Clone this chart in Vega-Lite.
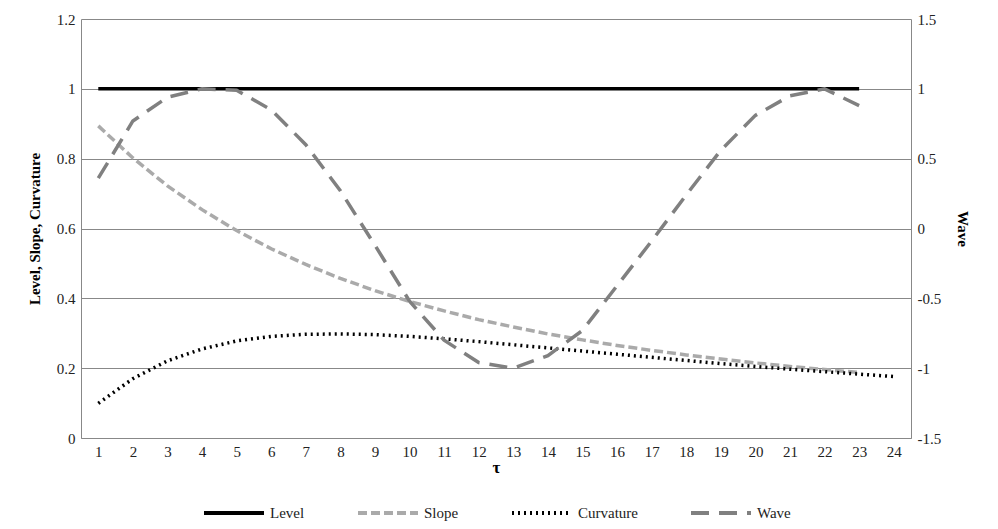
{
  "$schema": "https://vega.github.io/schema/vega-lite/v6.json",
  "width": 830,
  "height": 419,
  "padding": {"left": 27, "top": 12, "right": 5, "bottom": 0},
  "config": {
    "font": "Liberation Serif",
    "view": {"stroke": null},
    "axis": {"labelFont": "Liberation Serif", "titleFont": "Liberation Serif", "labelFontSize": 15, "titleFontSize": 15, "labelColor": "#222", "titleColor": "#000", "domainColor": "#888", "tickColor": "#888", "gridColor": "#888", "labelPadding": 6},
    "legend": {"labelFont": "Liberation Serif", "labelFontSize": 15, "labelColor": "#222", "layout": {"bottom": {"anchor": "middle"}}}
  },
  "datasets": {
    "left": [
      {"t":1,"s":"Level","v":1},{"t":23,"s":"Level","v":1},
      {"t":1,"s":"Slope","v":0.894},{"t":2,"s":"Slope","v":0.802},{"t":3,"s":"Slope","v":0.722},{"t":4,"s":"Slope","v":0.654},{"t":5,"s":"Slope","v":0.594},{"t":6,"s":"Slope","v":0.542},{"t":7,"s":"Slope","v":0.497},{"t":8,"s":"Slope","v":0.457},{"t":9,"s":"Slope","v":0.422},{"t":10,"s":"Slope","v":0.391},{"t":11,"s":"Slope","v":0.364},{"t":12,"s":"Slope","v":0.339},{"t":13,"s":"Slope","v":0.318},{"t":14,"s":"Slope","v":0.298},{"t":15,"s":"Slope","v":0.281},{"t":16,"s":"Slope","v":0.265},{"t":17,"s":"Slope","v":0.251},{"t":18,"s":"Slope","v":0.238},{"t":19,"s":"Slope","v":0.226},{"t":20,"s":"Slope","v":0.215},{"t":21,"s":"Slope","v":0.205},{"t":22,"s":"Slope","v":0.196},{"t":23,"s":"Slope","v":0.188},
      {"t":1,"s":"Curvature","v":0.099},{"t":2,"s":"Curvature","v":0.170},{"t":3,"s":"Curvature","v":0.221},{"t":4,"s":"Curvature","v":0.255},{"t":5,"s":"Curvature","v":0.278},{"t":6,"s":"Curvature","v":0.291},{"t":7,"s":"Curvature","v":0.297},{"t":8,"s":"Curvature","v":0.298},{"t":9,"s":"Curvature","v":0.296},{"t":10,"s":"Curvature","v":0.291},{"t":11,"s":"Curvature","v":0.284},{"t":12,"s":"Curvature","v":0.276},{"t":13,"s":"Curvature","v":0.267},{"t":14,"s":"Curvature","v":0.258},{"t":15,"s":"Curvature","v":0.249},{"t":16,"s":"Curvature","v":0.240},{"t":17,"s":"Curvature","v":0.231},{"t":18,"s":"Curvature","v":0.222},{"t":19,"s":"Curvature","v":0.213},{"t":20,"s":"Curvature","v":0.205},{"t":21,"s":"Curvature","v":0.197},{"t":22,"s":"Curvature","v":0.190},{"t":23,"s":"Curvature","v":0.183},{"t":24,"s":"Curvature","v":0.176}
    ],
    "wave": [
      {"t":1,"s":"Wave","v":0.36},{"t":2,"s":"Wave","v":0.77},{"t":3,"s":"Wave","v":0.94},{"t":4,"s":"Wave","v":1.0},{"t":5,"s":"Wave","v":0.99},{"t":6,"s":"Wave","v":0.85},{"t":7,"s":"Wave","v":0.6},{"t":8,"s":"Wave","v":0.27},{"t":9,"s":"Wave","v":-0.12},{"t":10,"s":"Wave","v":-0.52},{"t":11,"s":"Wave","v":-0.8},{"t":12,"s":"Wave","v":-0.96},{"t":13,"s":"Wave","v":-1.0},{"t":14,"s":"Wave","v":-0.91},{"t":15,"s":"Wave","v":-0.73},{"t":16,"s":"Wave","v":-0.41},{"t":17,"s":"Wave","v":-0.09},{"t":18,"s":"Wave","v":0.24},{"t":19,"s":"Wave","v":0.56},{"t":20,"s":"Wave","v":0.81},{"t":21,"s":"Wave","v":0.95},{"t":22,"s":"Wave","v":1.0},{"t":23,"s":"Wave","v":0.88}
    ]
  },
  "encoding": {
    "x": {"field": "t", "type": "ordinal", "title": "τ",
      "scale": {"type": "point", "padding": 0.5, "domain": [1,2,3,4,5,6,7,8,9,10,11,12,13,14,15,16,17,18,19,20,21,22,23,24]},
      "axis": {"labelAngle": 0, "ticks": false, "titleFontWeight": "bold", "titlePadding": 0, "titleFontSize": 17}},
    "color": {"field": "s", "type": "nominal", "title": null,
      "scale": {"domain": ["Level","Slope","Curvature","Wave"], "range": ["#000000","#aaaaaa","#000000","#808080"]},
      "legend": {"orient": "bottom", "direction": "horizontal", "symbolType": "stroke", "symbolSize": 3600, "symbolStrokeWidth": 4, "columnPadding": 45, "offset": 6}},
    "strokeDash": {"field": "s", "type": "nominal",
      "scale": {"domain": ["Level","Slope","Curvature","Wave"], "range": [[1,0],[9,4],[2,4],[18,10]]},
      "legend": null}
  },
  "layer": [
    {
      "data": {"name": "left"},
      "mark": {"type": "line", "strokeWidth": 3.5},
      "encoding": {
        "y": {"field": "v", "type": "quantitative", "title": "Level, Slope, Curvature",
          "scale": {"domain": [0, 1.2]},
          "axis": {"values": [0,0.2,0.4,0.6,0.8,1,1.2], "format": "~g", "ticks": false, "titleFontWeight": "bold", "grid": true, "titlePadding": 14}}
      }
    },
    {
      "data": {"name": "wave"},
      "mark": {"type": "line", "strokeWidth": 3.5},
      "encoding": {
        "y": {"field": "v", "type": "quantitative", "title": "Wave",
          "scale": {"domain": [-1.5, 1.5]},
          "axis": {"orient": "right", "values": [-1.5,-1,-0.5,0,0.5,1,1.5], "labelExpr": "replace(datum.label, '\u2212', '-')", "format": "~g", "ticks": false, "titleFontWeight": "bold", "grid": false, "titleAngle": 90, "titlePadding": 14}}
      }
    }
  ],
  "resolve": {"scale": {"y": "independent"}}
}
